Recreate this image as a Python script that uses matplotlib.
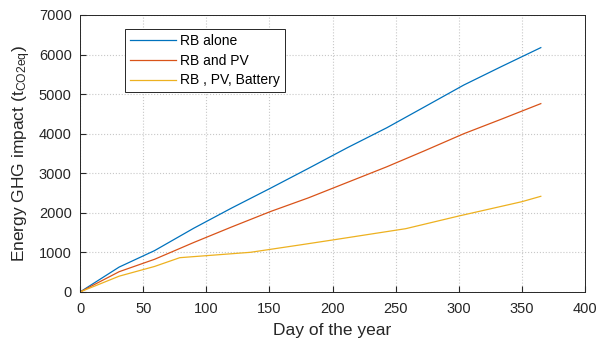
import matplotlib
matplotlib.use("Agg")
import matplotlib.pyplot as plt

# cumulative impact
days_rb = [0, 31, 59, 90, 120, 151, 181, 212, 243, 273, 304, 334, 365]
rb_alone = [0, 630, 1045, 1610, 2120, 2625, 3125, 3650, 4150, 4680, 5230, 5700, 6175]
rb_pv = [0, 513, 826, 1250, 1642, 2035, 2380, 2772, 3164, 3570, 4000, 4370, 4760]

days_bat = [0, 31, 59, 79, 100, 135, 174, 200, 258, 300, 350, 365]
rb_pv_bat = [0, 400, 645, 867, 918, 1003, 1188, 1314, 1600, 1920, 2282, 2418]

plt.rcParams['font.family'] = ['Liberation Sans', 'DejaVu Sans']

fig = plt.figure(figsize=(5.99, 3.43), dpi=100)
ax = fig.add_axes([0.1336, 0.1487, 0.843, 0.8076])

ax.plot(days_rb, rb_alone, color='#0072BD', lw=0.9, label='RB alone')
ax.plot(days_rb, rb_pv, color='#D95319', lw=0.9, label='RB and PV')
ax.plot(days_bat, rb_pv_bat, color='#EDB120', lw=0.9, label='RB , PV, Battery')

ax.set_xlim(0, 400)
ax.set_ylim(0, 7000)
ax.set_xticks(range(0, 401, 50))
ax.set_yticks(range(0, 7001, 1000))
ax.grid(True, color='#c8c8c8', ls=':', lw=0.8)
ax.tick_params(direction='in', labelsize=10.5, colors='#262626', length=4,
               top=False, right=False)
ax.tick_params(axis='x', pad=7)
ax.tick_params(axis='y', pad=6)
for s in ax.spines.values():
    s.set_color('#262626')
    s.set_linewidth(0.7)

ax.set_xlabel('Day of the year', fontsize=12.5, color='#262626', labelpad=5)
ax.set_ylabel(r'Energy GHG impact (t$\mathregular{_{CO2eq}}$)', fontsize=12.5,
              color='#262626', labelpad=4)

leg = ax.legend(loc='upper left', bbox_to_anchor=(0.089, 0.95), fontsize=10,
                fancybox=False, framealpha=1, edgecolor='#262626',
                handlelength=3.3, borderpad=0.35, labelspacing=0.42,
                handletextpad=0.3, borderaxespad=0)
leg.get_frame().set_linewidth(0.7)

fig.savefig('out.png', dpi=100)
